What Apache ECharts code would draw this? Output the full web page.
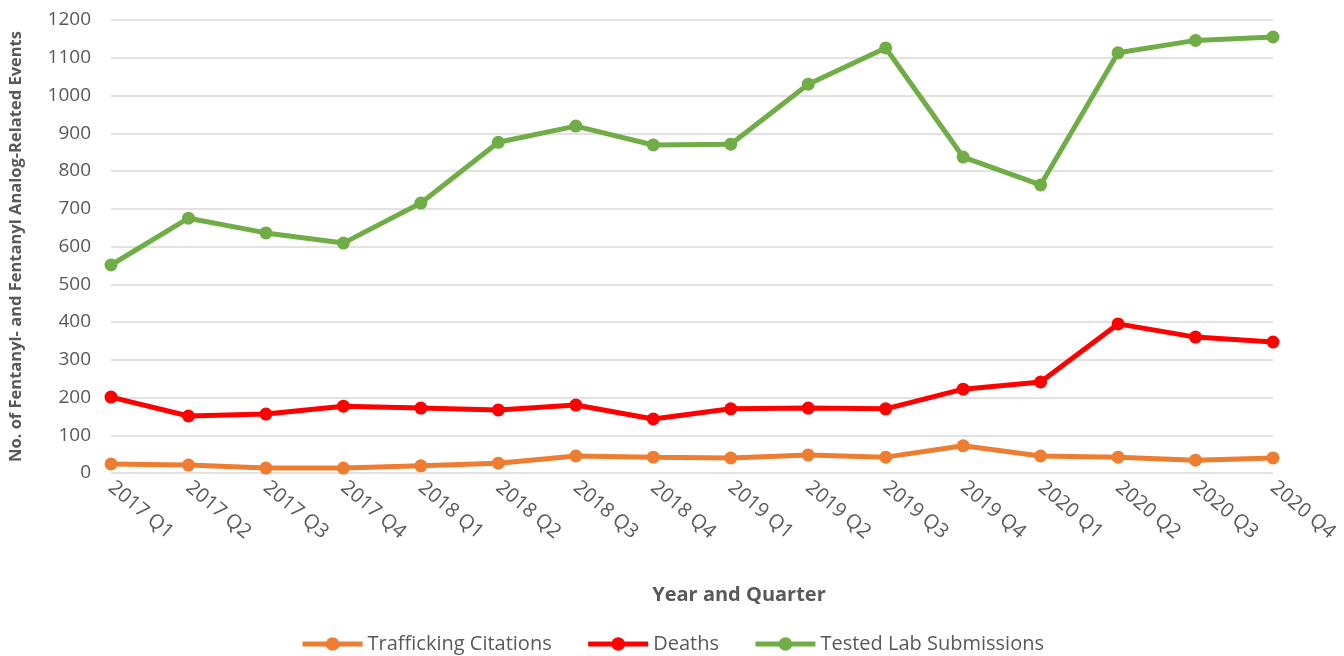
<!DOCTYPE html>
<html>
<head>
<meta charset="UTF-8">
<title>Fentanyl-Related Events by Quarter</title>
<script src="https://cdn.jsdelivr.net/npm/echarts@6/dist/echarts.min.js"></script>
<style>
  html, body { margin: 0; padding: 0; background: #fff; }
  #main { width: 1344px; height: 656px; }
</style>
</head>
<body>
<div id="main"></div>
<script>
var quarters = ['2017 Q1', '2017 Q2', '2017 Q3', '2017 Q4', '2018 Q1', '2018 Q2', '2018 Q3', '2018 Q4',
                '2019 Q1', '2019 Q2', '2019 Q3', '2019 Q4', '2020 Q1', '2020 Q2', '2020 Q3', '2020 Q4'];
var trafficking = [24, 21, 13, 13, 19, 26, 45, 42, 40, 48, 42, 72, 45, 42, 34, 40];
var deaths = [201, 151, 156, 177, 172, 167, 180, 143, 170, 172, 170, 222, 241, 395, 360, 347];
var labSubmissions = [551, 675, 636, 609, 715, 876, 919, 869, 871, 1030, 1126, 837, 763, 1113, 1146, 1155];

var textColor = '#595959';
var font = 'Open Sans';

function lineSeries(name, data, color) {
    return {
        name: name,
        type: 'line',
        data: data,
        symbol: 'circle',
        symbolSize: 13,
        lineStyle: { color: color, width: 5 },
        itemStyle: { color: color },
        emphasis: { disabled: true }
    };
}

var chart = echarts.init(document.getElementById('main'));
chart.setOption({
    animation: false,
    textStyle: { fontFamily: font },
    grid: { left: 110, right: 71, top: 20, bottom: 183 },
    legend: {
        bottom: -3,
        left: 'center',
        itemWidth: 60,
        itemHeight: 17,
        itemGap: 34,
        lineStyle: { width: 5 },
        textStyle: { fontFamily: font, fontSize: 20, color: textColor },
        data: ['Trafficking Citations', 'Deaths', 'Tested Lab Submissions']
    },
    xAxis: {
        type: 'category',
        data: quarters,
        boundaryGap: false,
        axisLine: { show: false },
        axisTick: { show: false },
        axisLabel: {
            interval: 0,
            rotate: -40,
            margin: 12,
            fontFamily: font,
            fontSize: 20,
            color: textColor
        },
        name: 'Year and Quarter',
        nameLocation: 'middle',
        nameGap: 112,
        nameTextStyle: {
            fontFamily: font,
            fontSize: 20,
            fontWeight: 'bold',
            color: textColor,
            padding: [0, 0, 0, 94]
        }
    },
    yAxis: {
        type: 'value',
        min: 0,
        max: 1200,
        interval: 100,
        axisLine: { show: false },
        axisTick: { show: false },
        splitLine: { lineStyle: { color: '#d9d9d9', width: 1.5 } },
        axisLabel: {
            margin: 20,
            fontFamily: font,
            fontSize: 19,
            color: textColor,
            formatter: function (v) { return String(v); }
        },
        name: 'No. of Fentanyl- and Fentanyl Analog-Related Events',
        nameLocation: 'middle',
        nameGap: 86,
        nameTextStyle: {
            fontFamily: font,
            fontSize: 16.5,
            fontWeight: 'bold',
            color: textColor
        }
    },
    series: [
        lineSeries('Trafficking Citations', trafficking, '#ed7d31'),
        lineSeries('Deaths', deaths, '#ff0000'),
        lineSeries('Tested Lab Submissions', labSubmissions, '#70ad47')
    ]
});
</script>
</body>
</html>
